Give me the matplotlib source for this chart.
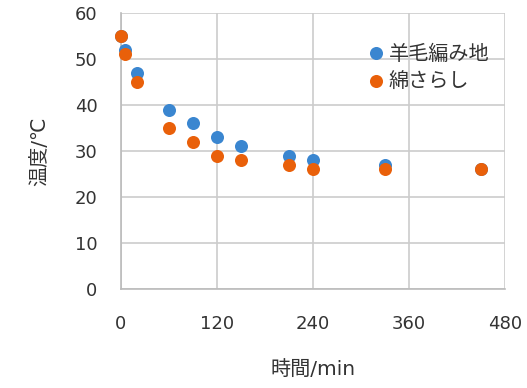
import matplotlib
matplotlib.use('Agg')
import matplotlib.pyplot as plt
from matplotlib.lines import Line2D

plt.rcParams['font.family'] = ['DejaVu Sans', 'Noto Sans CJK JP']

# Data
time_min = [0, 5, 20, 60, 90, 120, 150, 210, 240, 330, 450]
wool = [55, 52, 47, 39, 36, 33, 31, 29, 28, 27, 26]       # 羊毛編み地
cotton = [55, 51, 45, 35, 32, 29, 28, 27, 26, 26, 26]     # 綿さらし
x_ticks = [0, 120, 240, 360, 480]
y_ticks = [0, 10, 20, 30, 40, 50, 60]

blue = '#3A86D0'
orange = '#E9600A'
grid_c = '#CCCCCC'
text_c = '#333333'

fig = plt.figure(figsize=(5.27, 3.88), dpi=100)
ax = fig.add_axes([0.2296, 0.2552, 0.7287, 0.7113])

ax.scatter(time_min, wool, s=88, color=blue, zorder=3, clip_on=False, linewidths=0)
ax.scatter(time_min, cotton, s=88, color=orange, zorder=4, clip_on=False, linewidths=0)

ax.set_xlim(0, 480)
ax.set_ylim(0, 60)
ax.set_xticks(x_ticks)
ax.set_yticks(y_ticks)
ax.grid(True, color=grid_c, linewidth=1.2)
ax.set_axisbelow(True)
for side in ['top', 'right']:
    ax.spines[side].set_visible(False)
for side in ['left', 'bottom']:
    ax.spines[side].set_color('#BBBBBB')
    ax.spines[side].set_linewidth(1.2)
ax.tick_params(length=0, labelsize=13, colors=text_c)
ax.tick_params(axis='y', pad=17)
ax.tick_params(axis='x', pad=19)

ax.set_xlabel('時間/min', fontsize=14.5, color=text_c, labelpad=19)
ax.set_ylabel('温度/℃', fontsize=14.5, color=text_c, labelpad=18)

handles = [
    Line2D([], [], marker='o', linestyle='', markersize=9.4, color=blue, markeredgewidth=0),
    Line2D([], [], marker='o', linestyle='', markersize=9.4, color=orange, markeredgewidth=0),
]
ax.legend(handles, ['羊毛編み地', '綿さらし'], loc='upper left', bbox_to_anchor=(0.585, 0.95),
          frameon=False, fontsize=14.5, handletextpad=0.05, labelspacing=0.45,
          handlelength=1.2, labelcolor=text_c)

fig.savefig('out.png', dpi=100)
